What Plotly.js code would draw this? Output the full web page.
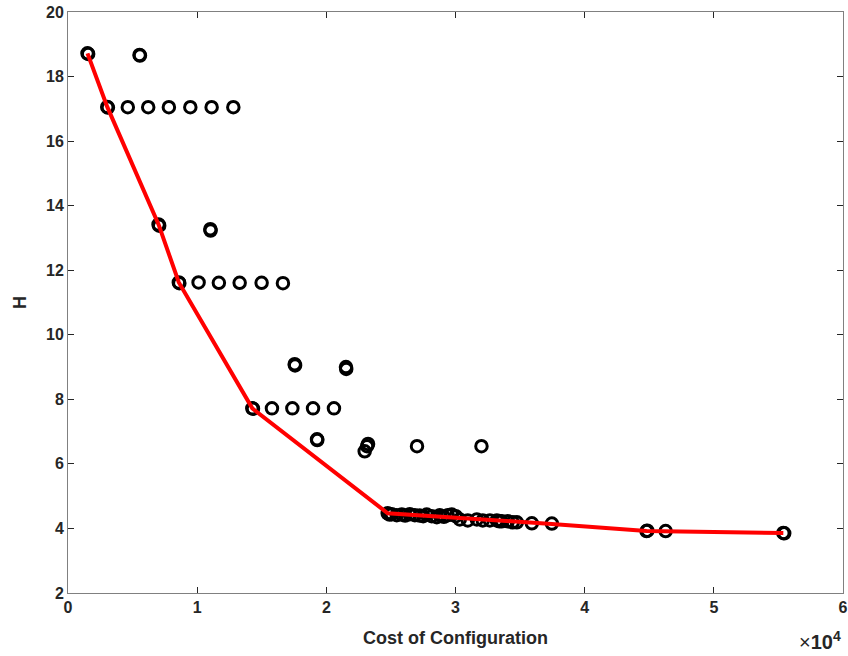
<!DOCTYPE html>
<html>
<head>
<meta charset="utf-8">
<script src="https://cdn.plot.ly/plotly-3.0.1.min.js"></script>
<style>html,body{margin:0;padding:0;background:#fff;}#chart{width:848px;height:656px;}</style>
</head>
<body>
<div id="chart"></div>
<script>
// All configurations: cost and H
const cost = [1510, 1560, 5540, 5570,
  3040, 3090, 4630, 6210, 7810, 9470, 11120, 12800,
  7010, 7060, 11020, 11040,
  8580, 8620, 10110, 11680, 13290, 14990, 16640,
  17550, 17580, 21520, 21540,
  14270, 14320, 15790, 17370, 18970, 20590,
  19280, 19300, 23230, 23150, 22970, 27020, 32010,
  24750, 24900, 25060, 25450, 25840, 26100, 26460, 26850, 27230, 27500, 27770, 28160, 28550, 28780,
  29100, 29400, 29710, 30020, 30330, 30950, 31650, 32110, 32660, 33200, 33400, 33590, 34050,
  34440, 34750, 35910, 37460,
  44790, 44850, 46270, 55380, 55450];
const H = [18.72, 18.70, 18.67, 18.65,
  17.06, 17.04, 17.05, 17.05, 17.05, 17.05, 17.05, 17.05,
  13.42, 13.38, 13.27, 13.23,
  11.62, 11.60, 11.62, 11.61, 11.61, 11.61, 11.60,
  9.09, 9.05, 9.00, 8.94,
  7.72, 7.71, 7.72, 7.72, 7.72, 7.72,
  6.76, 6.74, 6.62, 6.55, 6.39, 6.55, 6.55,
  4.47, 4.43, 4.44, 4.41, 4.43, 4.40, 4.44, 4.41, 4.40, 4.38, 4.43, 4.38, 4.35, 4.41,
  4.36, 4.41, 4.43, 4.38, 4.28, 4.25, 4.28, 4.25, 4.25, 4.25, 4.22, 4.22, 4.22,
  4.19, 4.19, 4.16, 4.15,
  3.92, 3.93, 3.92, 3.86, 3.85];
// Pareto front
const frontCost = [1510, 3040, 7010, 8580, 14270, 24750, 37460, 44790, 55380];
const frontH = [18.72, 17.06, 13.42, 11.62, 7.72, 4.47, 4.14, 3.92, 3.86];
const xTickVals = [0, 10000, 20000, 30000, 40000, 50000, 60000];
const xTickText = ['0', '1', '2', '3', '4', '5', '6'];
const yTickVals = [2, 4, 6, 8, 10, 12, 14, 16, 18, 20];

const FAM = 'Liberation Sans, Arial, sans-serif';
const tickFont = {family: FAM, size: 16, color: '#262626', weight: 700};
const traces = [
  {x: cost, y: H, type: 'scatter', mode: 'markers',
   marker: {symbol: 'circle-open', size: 11.5, color: '#000', line: {width: 3, color: '#000'}},
   hoverinfo: 'x+y'},
  {x: frontCost, y: frontH, type: 'scatter', mode: 'lines',
   line: {color: '#ff0000', width: 4}}
];
const axisCommon = {showgrid: false, zeroline: false, showline: true, linecolor: '#808080', linewidth: 1,
  mirror: 'ticks', ticks: 'inside', ticklen: 6, tickcolor: '#262626', tickwidth: 1, tickfont: tickFont};
const layout = {
  width: 848, height: 656,
  margin: {l: 68, r: 5, t: 12, b: 63},
  paper_bgcolor: '#fff', plot_bgcolor: '#fff',
  showlegend: false,
  xaxis: Object.assign({}, axisCommon, {range: [0, 60000], tickvals: xTickVals, ticktext: xTickText,
    title: {text: 'Cost of Configuration', font: {family: FAM, size: 18, color: '#262626', weight: 700}, standoff: 16}}),
  yaxis: Object.assign({}, axisCommon, {range: [2, 20], tickvals: yTickVals,
    title: {text: 'H', font: {family: FAM, size: 18, color: '#262626', weight: 700}, standoff: 14}}),
  annotations: [{xref: 'paper', yref: 'paper', x: 1, y: 0, xanchor: 'right', yanchor: 'top', yshift: -33,
    text: '\u00d7<b>10<sup>4</sup></b>', showarrow: false,
    font: {family: FAM, size: 20, color: '#262626'}}]
};
Plotly.newPlot('chart', traces, layout, {displayModeBar: false, staticPlot: true});
</script>
</body>
</html>
